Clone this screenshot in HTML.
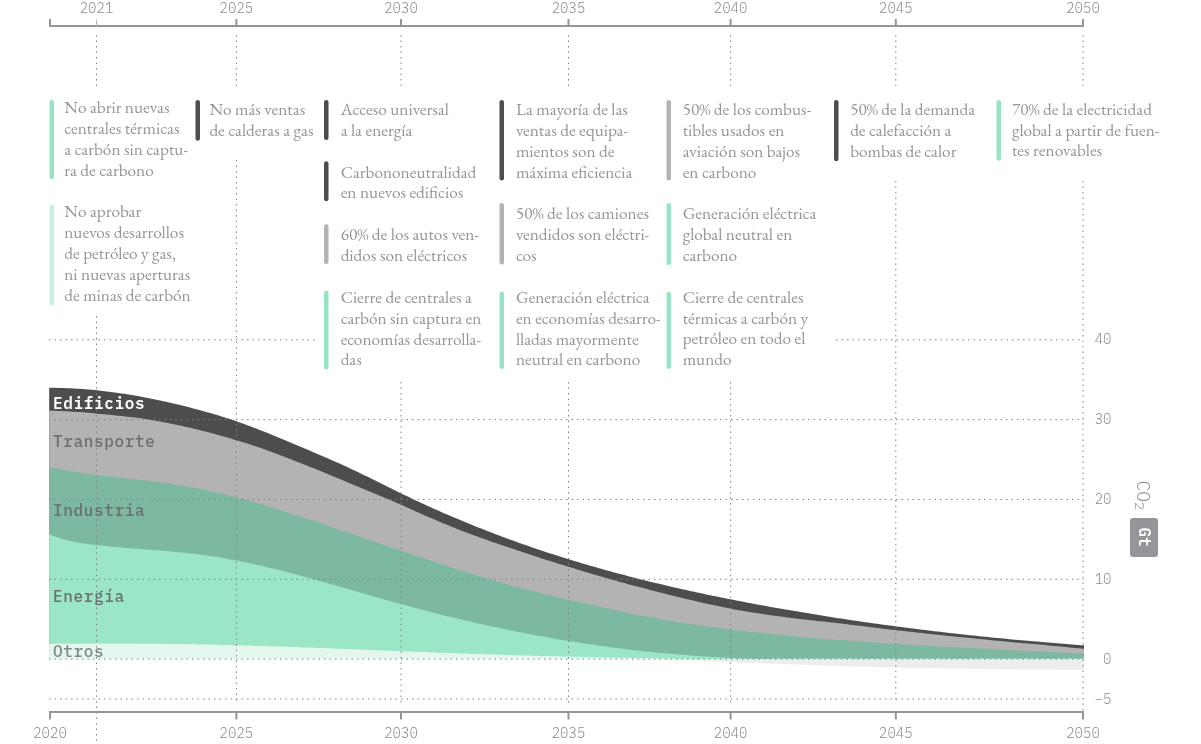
<!DOCTYPE html>
<html lang="es"><head><meta charset="utf-8"><title>Hoja de ruta hacia cero emisiones netas</title>
<style>
html,body{margin:0;padding:0;background:#fff;overflow:hidden}
svg{display:block;will-change:transform;-webkit-font-smoothing:antialiased}
.grid line{stroke:#808285;stroke-width:1;stroke-dasharray:1.5 4;fill:none}
.tick text{font-family:"IBM Plex Mono","Liberation Mono",monospace;font-weight:300;font-size:14px;fill:#8a8c8f}
.ann{font-family:"EB Garamond","Liberation Serif",serif;font-size:100px}
.ann text{font-family:"EB Garamond","Liberation Serif",serif;font-size:calc(24.8432px - 0.18983ex);fill:#939598}
.co2{font-family:"IBM Plex Mono","Liberation Mono",monospace;font-weight:300;font-size:18px;fill:#939598}
.gt{font-family:"IBM Plex Mono","Liberation Mono",monospace;font-weight:600;font-size:16px;fill:#fff}
.lab text{font-family:"IBM Plex Mono","Liberation Mono",monospace;font-weight:500;font-size:16px;letter-spacing:0.65px;fill:#6d6e71}
</style></head><body>
<svg width="1201" height="744" viewBox="0 0 1201 744">
<rect width="1201" height="744" fill="#fff"/>
<g class="areas">
<path d="M49.2,659.10 L52.2,659.10 L55.2,659.10 L58.2,659.10 L61.2,659.10 L64.2,659.10 L67.2,659.10 L70.2,659.10 L73.2,659.10 L76.2,659.10 L79.2,659.10 L82.2,659.10 L85.2,659.10 L88.2,659.10 L91.2,659.10 L94.2,659.10 L97.2,659.10 L100.2,659.10 L103.2,659.10 L106.2,659.10 L109.2,659.10 L112.2,659.10 L115.2,659.10 L118.2,659.10 L121.2,659.10 L124.2,659.10 L127.2,659.10 L130.2,659.10 L133.2,659.10 L136.2,659.10 L139.2,659.10 L142.2,659.10 L145.2,659.10 L148.2,659.10 L151.2,659.10 L154.2,659.10 L157.2,659.10 L160.2,659.10 L163.2,659.10 L166.2,659.10 L169.2,659.10 L172.2,659.10 L175.2,659.10 L178.2,659.10 L181.2,659.10 L184.2,659.10 L187.2,659.10 L190.2,659.10 L193.2,659.10 L196.2,659.10 L199.2,659.10 L202.2,659.10 L205.2,659.10 L208.2,659.10 L211.2,659.10 L214.2,659.10 L217.2,659.10 L220.2,659.10 L223.2,659.10 L226.2,659.10 L229.2,659.10 L232.2,659.10 L235.2,659.10 L238.2,659.10 L241.2,659.10 L244.2,659.10 L247.2,659.10 L250.2,659.10 L253.2,659.10 L256.2,659.10 L259.2,659.10 L262.2,659.10 L265.2,659.10 L268.2,659.10 L271.2,659.10 L274.2,659.10 L277.2,659.10 L280.2,659.10 L283.2,659.10 L286.2,659.10 L289.2,659.10 L292.2,659.10 L295.2,659.10 L298.2,659.10 L301.2,659.10 L304.2,659.10 L307.2,659.10 L310.2,659.10 L313.2,659.10 L316.2,659.10 L319.2,659.10 L322.2,659.10 L325.2,659.10 L328.2,659.10 L331.2,659.10 L334.2,659.10 L337.2,659.10 L340.2,659.10 L343.2,659.10 L346.2,659.10 L349.2,659.10 L352.2,659.10 L355.2,659.10 L358.2,659.10 L361.2,659.10 L364.2,659.10 L367.2,659.10 L370.2,659.10 L373.2,659.10 L376.2,659.10 L379.2,659.10 L382.2,659.10 L385.2,659.10 L388.2,659.10 L391.2,659.10 L394.2,659.10 L397.2,659.10 L400.2,659.10 L403.2,659.10 L406.2,659.10 L409.2,659.10 L412.2,659.10 L415.2,659.10 L418.2,659.10 L421.2,659.10 L424.2,659.10 L427.2,659.10 L430.2,659.10 L433.2,659.10 L436.2,659.10 L439.2,659.10 L442.2,659.10 L445.2,659.10 L448.2,659.10 L451.2,659.10 L454.2,659.10 L457.2,659.10 L460.2,659.10 L463.2,659.10 L466.2,659.10 L469.2,659.10 L472.2,659.10 L475.2,659.10 L478.2,659.10 L481.2,659.10 L484.2,659.10 L487.2,659.10 L490.2,659.10 L493.2,659.10 L496.2,659.10 L499.2,659.10 L502.2,659.10 L505.2,659.10 L508.2,659.10 L511.2,659.10 L514.2,659.10 L517.2,659.10 L520.2,659.10 L523.2,659.10 L526.2,659.10 L529.2,659.10 L532.2,659.10 L535.2,659.10 L538.2,659.10 L541.2,659.10 L544.2,659.10 L547.2,659.10 L550.2,659.10 L553.2,659.10 L556.2,659.10 L559.2,659.10 L562.2,659.10 L565.2,659.10 L568.2,659.10 L571.2,659.10 L574.2,659.10 L577.2,659.10 L580.2,659.10 L583.2,659.10 L586.2,659.10 L589.2,659.10 L592.2,659.10 L595.2,659.10 L598.2,659.10 L601.2,659.10 L604.2,659.10 L607.2,659.10 L610.2,659.10 L613.2,659.10 L616.2,659.10 L619.2,659.10 L622.2,659.10 L625.2,659.10 L628.2,659.10 L631.2,659.10 L634.2,659.11 L637.2,659.12 L640.2,659.14 L643.2,659.17 L646.2,659.21 L649.2,659.25 L652.2,659.29 L655.2,659.34 L658.2,659.39 L661.2,659.44 L664.2,659.49 L667.2,659.55 L670.2,659.60 L673.2,659.67 L676.2,659.74 L679.2,659.83 L682.2,659.92 L685.2,660.02 L688.2,660.13 L691.2,660.24 L694.2,660.36 L697.2,660.48 L700.2,660.61 L703.2,660.74 L706.2,660.90 L709.2,661.07 L712.2,661.25 L715.2,661.43 L718.2,661.61 L721.2,661.79 L724.2,661.96 L727.2,662.12 L730.2,662.27 L733.2,662.39 L736.2,662.51 L739.2,662.63 L742.2,662.74 L745.2,662.84 L748.2,662.95 L751.2,663.05 L754.2,663.14 L757.2,663.24 L760.2,663.33 L763.2,663.42 L766.2,663.51 L769.2,663.60 L772.2,663.69 L775.2,663.78 L778.2,663.87 L781.2,663.96 L784.2,664.05 L787.2,664.14 L790.2,664.24 L793.2,664.34 L796.2,664.44 L799.2,664.55 L802.2,664.65 L805.2,664.76 L808.2,664.87 L811.2,664.98 L814.2,665.10 L817.2,665.21 L820.2,665.32 L823.2,665.43 L826.2,665.54 L829.2,665.64 L832.2,665.75 L835.2,665.85 L838.2,665.94 L841.2,666.04 L844.2,666.13 L847.2,666.22 L850.2,666.31 L853.2,666.39 L856.2,666.48 L859.2,666.57 L862.2,666.65 L865.2,666.73 L868.2,666.81 L871.2,666.89 L874.2,666.97 L877.2,667.05 L880.2,667.12 L883.2,667.20 L886.2,667.27 L889.2,667.35 L892.2,667.42 L895.2,667.49 L898.2,667.56 L901.2,667.62 L904.2,667.69 L907.2,667.76 L910.2,667.82 L913.2,667.89 L916.2,667.95 L919.2,668.01 L922.2,668.07 L925.2,668.12 L928.2,668.17 L931.2,668.22 L934.2,668.26 L937.2,668.30 L940.2,668.34 L943.2,668.38 L946.2,668.42 L949.2,668.45 L952.2,668.48 L955.2,668.52 L958.2,668.55 L961.2,668.58 L964.2,668.62 L967.2,668.65 L970.2,668.68 L973.2,668.72 L976.2,668.75 L979.2,668.79 L982.2,668.83 L985.2,668.87 L988.2,668.92 L991.2,668.97 L994.2,669.01 L997.2,669.06 L1000.2,669.11 L1003.2,669.16 L1006.2,669.21 L1009.2,669.26 L1012.2,669.31 L1015.2,669.35 L1018.2,669.39 L1021.2,669.42 L1024.2,669.45 L1027.2,669.48 L1030.2,669.50 L1033.2,669.52 L1036.2,669.54 L1039.2,669.55 L1042.2,669.57 L1045.2,669.59 L1048.2,669.60 L1051.2,669.61 L1054.2,669.63 L1057.2,669.64 L1060.2,669.65 L1063.2,669.66 L1066.2,669.67 L1069.2,669.68 L1072.2,669.69 L1075.2,669.69 L1078.2,669.70 L1081.2,669.70 L1084.0,669.70 L1084.0,659.10 L49.2,659.10Z" fill="#ededed"/>
<path d="M49.2,387.79 L52.2,387.80 L55.2,387.84 L58.2,387.89 L61.2,387.97 L64.2,388.06 L67.2,388.18 L70.2,388.31 L73.2,388.47 L76.2,388.64 L79.2,388.83 L82.2,389.04 L85.2,389.27 L88.2,389.52 L91.2,389.78 L94.2,390.06 L97.2,390.37 L100.2,390.69 L103.2,391.02 L106.2,391.38 L109.2,391.75 L112.2,392.14 L115.2,392.54 L118.2,392.96 L121.2,393.40 L124.2,393.86 L127.2,394.33 L130.2,394.81 L133.2,395.32 L136.2,395.83 L139.2,396.37 L142.2,396.92 L145.2,397.48 L148.2,398.06 L151.2,398.65 L154.2,399.26 L157.2,399.88 L160.2,400.51 L163.2,401.16 L166.2,401.83 L169.2,402.51 L172.2,403.20 L175.2,403.90 L178.2,404.62 L181.2,405.35 L184.2,406.09 L187.2,406.84 L190.2,407.61 L193.2,408.39 L196.2,409.18 L199.2,409.98 L202.2,410.80 L205.2,411.63 L208.2,412.47 L211.2,413.33 L214.2,414.21 L217.2,415.10 L220.2,416.01 L223.2,416.94 L226.2,417.89 L229.2,418.86 L232.2,419.85 L235.2,420.86 L238.2,421.90 L241.2,422.96 L244.2,424.04 L247.2,425.14 L250.2,426.26 L253.2,427.39 L256.2,428.55 L259.2,429.71 L262.2,430.90 L265.2,432.09 L268.2,433.30 L271.2,434.52 L274.2,435.75 L277.2,436.98 L280.2,438.23 L283.2,439.48 L286.2,440.74 L289.2,442.00 L292.2,443.26 L295.2,444.53 L298.2,445.80 L301.2,447.06 L304.2,448.33 L307.2,449.60 L310.2,450.87 L313.2,452.14 L316.2,453.41 L319.2,454.69 L322.2,455.98 L325.2,457.27 L328.2,458.57 L331.2,459.88 L334.2,461.20 L337.2,462.53 L340.2,463.87 L343.2,465.22 L346.2,466.59 L349.2,467.98 L352.2,469.38 L355.2,470.80 L358.2,472.24 L361.2,473.68 L364.2,475.14 L367.2,476.61 L370.2,478.09 L373.2,479.58 L376.2,481.06 L379.2,482.56 L382.2,484.05 L385.2,485.54 L388.2,487.04 L391.2,488.52 L394.2,490.01 L397.2,491.48 L400.2,492.95 L403.2,494.41 L406.2,495.85 L409.2,497.29 L412.2,498.71 L415.2,500.13 L418.2,501.53 L421.2,502.92 L424.2,504.31 L427.2,505.68 L430.2,507.04 L433.2,508.39 L436.2,509.73 L439.2,511.06 L442.2,512.38 L445.2,513.69 L448.2,514.99 L451.2,516.28 L454.2,517.55 L457.2,518.82 L460.2,520.08 L463.2,521.33 L466.2,522.57 L469.2,523.80 L472.2,525.02 L475.2,526.22 L478.2,527.42 L481.2,528.61 L484.2,529.79 L487.2,530.96 L490.2,532.12 L493.2,533.27 L496.2,534.41 L499.2,535.54 L502.2,536.66 L505.2,537.78 L508.2,538.88 L511.2,539.97 L514.2,541.06 L517.2,542.13 L520.2,543.20 L523.2,544.26 L526.2,545.31 L529.2,546.35 L532.2,547.38 L535.2,548.40 L538.2,549.41 L541.2,550.42 L544.2,551.42 L547.2,552.40 L550.2,553.38 L553.2,554.36 L556.2,555.32 L559.2,556.27 L562.2,557.22 L565.2,558.16 L568.2,559.09 L571.2,560.01 L574.2,560.93 L577.2,561.83 L580.2,562.73 L583.2,563.63 L586.2,564.51 L589.2,565.39 L592.2,566.26 L595.2,567.12 L598.2,567.97 L601.2,568.82 L604.2,569.66 L607.2,570.49 L610.2,571.32 L613.2,572.14 L616.2,572.95 L619.2,573.75 L622.2,574.55 L625.2,575.34 L628.2,576.13 L631.2,576.90 L634.2,577.67 L637.2,578.44 L640.2,579.20 L643.2,579.95 L646.2,580.70 L649.2,581.43 L652.2,582.17 L655.2,582.89 L658.2,583.62 L661.2,584.33 L664.2,585.04 L667.2,585.74 L670.2,586.44 L673.2,587.13 L676.2,587.82 L679.2,588.50 L682.2,589.17 L685.2,589.84 L688.2,590.51 L691.2,591.17 L694.2,591.82 L697.2,592.47 L700.2,593.11 L703.2,593.75 L706.2,594.38 L709.2,595.01 L712.2,595.63 L715.2,596.25 L718.2,596.86 L721.2,597.47 L724.2,598.08 L727.2,598.68 L730.2,599.27 L733.2,599.86 L736.2,600.45 L739.2,601.03 L742.2,601.61 L745.2,602.18 L748.2,602.75 L751.2,603.32 L754.2,603.88 L757.2,604.44 L760.2,604.99 L763.2,605.54 L766.2,606.09 L769.2,606.63 L772.2,607.17 L775.2,607.70 L778.2,608.24 L781.2,608.76 L784.2,609.29 L787.2,609.81 L790.2,610.33 L793.2,610.84 L796.2,611.35 L799.2,611.86 L802.2,612.36 L805.2,612.86 L808.2,613.36 L811.2,613.85 L814.2,614.34 L817.2,614.83 L820.2,615.31 L823.2,615.79 L826.2,616.26 L829.2,616.73 L832.2,617.20 L835.2,617.67 L838.2,618.13 L841.2,618.59 L844.2,619.04 L847.2,619.49 L850.2,619.94 L853.2,620.39 L856.2,620.83 L859.2,621.27 L862.2,621.70 L865.2,622.13 L868.2,622.56 L871.2,622.98 L874.2,623.41 L877.2,623.82 L880.2,624.24 L883.2,624.65 L886.2,625.06 L889.2,625.46 L892.2,625.87 L895.2,626.27 L898.2,626.66 L901.2,627.05 L904.2,627.44 L907.2,627.83 L910.2,628.21 L913.2,628.59 L916.2,628.97 L919.2,629.34 L922.2,629.71 L925.2,630.08 L928.2,630.44 L931.2,630.80 L934.2,631.16 L937.2,631.52 L940.2,631.87 L943.2,632.22 L946.2,632.56 L949.2,632.90 L952.2,633.24 L955.2,633.58 L958.2,633.91 L961.2,634.25 L964.2,634.57 L967.2,634.90 L970.2,635.22 L973.2,635.54 L976.2,635.85 L979.2,636.17 L982.2,636.48 L985.2,636.78 L988.2,637.09 L991.2,637.39 L994.2,637.69 L997.2,637.98 L1000.2,638.28 L1003.2,638.57 L1006.2,638.85 L1009.2,639.14 L1012.2,639.42 L1015.2,639.70 L1018.2,639.97 L1021.2,640.24 L1024.2,640.51 L1027.2,640.78 L1030.2,641.05 L1033.2,641.31 L1036.2,641.57 L1039.2,641.82 L1042.2,642.08 L1045.2,642.33 L1048.2,642.58 L1051.2,642.82 L1054.2,643.06 L1057.2,643.30 L1060.2,643.54 L1063.2,643.78 L1066.2,644.01 L1069.2,644.24 L1072.2,644.47 L1075.2,644.69 L1078.2,644.91 L1081.2,645.13 L1084.0,645.33 L1084.0,659.10 L49.2,659.10Z" fill="#4d4d4d"/>
<path d="M49.2,410.59 L52.2,410.69 L55.2,410.81 L58.2,410.93 L61.2,411.06 L64.2,411.20 L67.2,411.36 L70.2,411.53 L73.2,411.71 L76.2,411.90 L79.2,412.10 L82.2,412.33 L85.2,412.56 L88.2,412.81 L91.2,413.08 L94.2,413.36 L97.2,413.67 L100.2,413.97 L103.2,414.26 L106.2,414.54 L109.2,414.83 L112.2,415.12 L115.2,415.40 L118.2,415.70 L121.2,416.00 L124.2,416.31 L127.2,416.64 L130.2,416.98 L133.2,417.34 L136.2,417.72 L139.2,418.12 L142.2,418.55 L145.2,419.00 L148.2,419.49 L151.2,419.99 L154.2,420.51 L157.2,421.04 L160.2,421.59 L163.2,422.15 L166.2,422.73 L169.2,423.33 L172.2,423.94 L175.2,424.56 L178.2,425.20 L181.2,425.85 L184.2,426.51 L187.2,427.18 L190.2,427.87 L193.2,428.57 L196.2,429.27 L199.2,430.00 L202.2,430.74 L205.2,431.50 L208.2,432.27 L211.2,433.06 L214.2,433.87 L217.2,434.69 L220.2,435.53 L223.2,436.38 L226.2,437.24 L229.2,438.12 L232.2,439.01 L235.2,439.91 L238.2,440.81 L241.2,441.69 L244.2,442.57 L247.2,443.46 L250.2,444.40 L253.2,445.39 L256.2,446.41 L259.2,447.45 L262.2,448.50 L265.2,449.58 L268.2,450.67 L271.2,451.78 L274.2,452.90 L277.2,454.03 L280.2,455.18 L283.2,456.33 L286.2,457.49 L289.2,458.66 L292.2,459.83 L295.2,461.00 L298.2,462.18 L301.2,463.36 L304.2,464.54 L307.2,465.73 L310.2,466.92 L313.2,468.12 L316.2,469.33 L319.2,470.54 L322.2,471.76 L325.2,472.99 L328.2,474.22 L331.2,475.46 L334.2,476.71 L337.2,477.96 L340.2,479.22 L343.2,480.49 L346.2,481.77 L349.2,483.05 L352.2,484.33 L355.2,485.61 L358.2,486.86 L361.2,488.11 L364.2,489.34 L367.2,490.56 L370.2,491.78 L373.2,493.00 L376.2,494.22 L379.2,495.44 L382.2,496.67 L385.2,497.91 L388.2,499.17 L391.2,500.44 L394.2,501.73 L397.2,503.04 L400.2,504.38 L403.2,505.74 L406.2,507.09 L409.2,508.44 L412.2,509.79 L415.2,511.14 L418.2,512.48 L421.2,513.81 L424.2,515.13 L427.2,516.45 L430.2,517.76 L433.2,519.06 L436.2,520.34 L439.2,521.61 L442.2,522.88 L445.2,524.12 L448.2,525.35 L451.2,526.57 L454.2,527.77 L457.2,528.96 L460.2,530.13 L463.2,531.28 L466.2,532.42 L469.2,533.55 L472.2,534.67 L475.2,535.77 L478.2,536.87 L481.2,537.95 L484.2,539.02 L487.2,540.09 L490.2,541.14 L493.2,542.19 L496.2,543.23 L499.2,544.26 L502.2,545.28 L505.2,546.30 L508.2,547.32 L511.2,548.33 L514.2,549.33 L517.2,550.34 L520.2,551.34 L523.2,552.34 L526.2,553.33 L529.2,554.33 L532.2,555.32 L535.2,556.30 L538.2,557.27 L541.2,558.23 L544.2,559.19 L547.2,560.14 L550.2,561.09 L553.2,562.03 L556.2,562.97 L559.2,563.90 L562.2,564.83 L565.2,565.76 L568.2,566.69 L571.2,567.61 L574.2,568.53 L577.2,569.45 L580.2,570.36 L583.2,571.26 L586.2,572.16 L589.2,573.06 L592.2,573.95 L595.2,574.83 L598.2,575.71 L601.2,576.58 L604.2,577.45 L607.2,578.31 L610.2,579.16 L613.2,580.00 L616.2,580.84 L619.2,581.68 L622.2,582.50 L625.2,583.32 L628.2,584.13 L631.2,584.93 L634.2,585.73 L637.2,586.52 L640.2,587.30 L643.2,588.08 L646.2,588.86 L649.2,589.63 L652.2,590.39 L655.2,591.15 L658.2,591.91 L661.2,592.66 L664.2,593.41 L667.2,594.15 L670.2,594.90 L673.2,595.65 L676.2,596.41 L679.2,597.16 L682.2,597.91 L685.2,598.66 L688.2,599.39 L691.2,600.12 L694.2,600.84 L697.2,601.53 L700.2,602.21 L703.2,602.88 L706.2,603.54 L709.2,604.20 L712.2,604.85 L715.2,605.49 L718.2,606.12 L721.2,606.75 L724.2,607.37 L727.2,607.97 L730.2,608.57 L733.2,609.16 L736.2,609.71 L739.2,610.25 L742.2,610.77 L745.2,611.27 L748.2,611.76 L751.2,612.23 L754.2,612.70 L757.2,613.15 L760.2,613.61 L763.2,614.05 L766.2,614.50 L769.2,614.95 L772.2,615.38 L775.2,615.80 L778.2,616.21 L781.2,616.62 L784.2,617.01 L787.2,617.40 L790.2,617.78 L793.2,618.15 L796.2,618.53 L799.2,618.89 L802.2,619.26 L805.2,619.61 L808.2,619.94 L811.2,620.27 L814.2,620.59 L817.2,620.91 L820.2,621.22 L823.2,621.54 L826.2,621.85 L829.2,622.17 L832.2,622.50 L835.2,622.84 L838.2,623.19 L841.2,623.55 L844.2,623.92 L847.2,624.28 L850.2,624.65 L853.2,625.02 L856.2,625.39 L859.2,625.76 L862.2,626.12 L865.2,626.49 L868.2,626.86 L871.2,627.22 L874.2,627.59 L877.2,627.95 L880.2,628.31 L883.2,628.67 L886.2,629.02 L889.2,629.38 L892.2,629.73 L895.2,630.08 L898.2,630.42 L901.2,630.76 L904.2,631.10 L907.2,631.44 L910.2,631.78 L913.2,632.11 L916.2,632.45 L919.2,632.78 L922.2,633.11 L925.2,633.44 L928.2,633.76 L931.2,634.09 L934.2,634.41 L937.2,634.73 L940.2,635.04 L943.2,635.35 L946.2,635.66 L949.2,635.97 L952.2,636.27 L955.2,636.57 L958.2,636.88 L961.2,637.18 L964.2,637.47 L967.2,637.77 L970.2,638.07 L973.2,638.37 L976.2,638.67 L979.2,638.97 L982.2,639.27 L985.2,639.57 L988.2,639.86 L991.2,640.15 L994.2,640.44 L997.2,640.73 L1000.2,641.02 L1003.2,641.30 L1006.2,641.58 L1009.2,641.86 L1012.2,642.13 L1015.2,642.41 L1018.2,642.68 L1021.2,642.95 L1024.2,643.22 L1027.2,643.48 L1030.2,643.75 L1033.2,644.01 L1036.2,644.28 L1039.2,644.55 L1042.2,644.83 L1045.2,645.11 L1048.2,645.39 L1051.2,645.68 L1054.2,645.96 L1057.2,646.25 L1060.2,646.54 L1063.2,646.83 L1066.2,647.12 L1069.2,647.41 L1072.2,647.70 L1075.2,647.99 L1078.2,648.28 L1081.2,648.57 L1084.0,648.84 L1084.0,659.10 L49.2,659.10Z" fill="#b3b3b3"/>
<path d="M49.2,466.71 L52.2,467.40 L55.2,468.07 L58.2,468.70 L61.2,469.31 L64.2,469.90 L67.2,470.46 L70.2,471.00 L73.2,471.52 L76.2,472.01 L79.2,472.49 L82.2,472.95 L85.2,473.39 L88.2,473.82 L91.2,474.23 L94.2,474.63 L97.2,475.02 L100.2,475.40 L103.2,475.76 L106.2,476.12 L109.2,476.47 L112.2,476.81 L115.2,477.14 L118.2,477.48 L121.2,477.80 L124.2,478.13 L127.2,478.46 L130.2,478.78 L133.2,479.11 L136.2,479.44 L139.2,479.77 L142.2,480.11 L145.2,480.45 L148.2,480.80 L151.2,481.16 L154.2,481.53 L157.2,481.90 L160.2,482.29 L163.2,482.69 L166.2,483.11 L169.2,483.54 L172.2,483.99 L175.2,484.45 L178.2,484.93 L181.2,485.43 L184.2,485.94 L187.2,486.47 L190.2,487.02 L193.2,487.59 L196.2,488.17 L199.2,488.77 L202.2,489.38 L205.2,490.01 L208.2,490.65 L211.2,491.31 L214.2,491.99 L217.2,492.68 L220.2,493.38 L223.2,494.10 L226.2,494.84 L229.2,495.59 L232.2,496.35 L235.2,497.13 L238.2,497.92 L241.2,498.72 L244.2,499.54 L247.2,500.36 L250.2,501.21 L253.2,502.06 L256.2,502.92 L259.2,503.80 L262.2,504.68 L265.2,505.57 L268.2,506.48 L271.2,507.39 L274.2,508.31 L277.2,509.24 L280.2,510.18 L283.2,511.12 L286.2,512.07 L289.2,513.03 L292.2,513.99 L295.2,514.96 L298.2,515.93 L301.2,516.91 L304.2,517.89 L307.2,518.88 L310.2,519.87 L313.2,520.86 L316.2,521.86 L319.2,522.86 L322.2,523.87 L325.2,524.87 L328.2,525.88 L331.2,526.90 L334.2,527.91 L337.2,528.93 L340.2,529.95 L343.2,530.97 L346.2,532.00 L349.2,533.02 L352.2,534.05 L355.2,535.08 L358.2,536.11 L361.2,537.14 L364.2,538.17 L367.2,539.20 L370.2,540.23 L373.2,541.26 L376.2,542.29 L379.2,543.32 L382.2,544.35 L385.2,545.38 L388.2,546.41 L391.2,547.44 L394.2,548.47 L397.2,549.49 L400.2,550.51 L403.2,551.53 L406.2,552.55 L409.2,553.57 L412.2,554.59 L415.2,555.60 L418.2,556.61 L421.2,557.61 L424.2,558.61 L427.2,559.61 L430.2,560.61 L433.2,561.60 L436.2,562.59 L439.2,563.57 L442.2,564.55 L445.2,565.53 L448.2,566.50 L451.2,567.46 L454.2,568.42 L457.2,569.38 L460.2,570.32 L463.2,571.27 L466.2,572.20 L469.2,573.14 L472.2,574.06 L475.2,574.98 L478.2,575.89 L481.2,576.80 L484.2,577.69 L487.2,578.59 L490.2,579.47 L493.2,580.34 L496.2,581.21 L499.2,582.07 L502.2,582.92 L505.2,583.77 L508.2,584.60 L511.2,585.43 L514.2,586.24 L517.2,587.05 L520.2,587.85 L523.2,588.64 L526.2,589.42 L529.2,590.19 L532.2,590.95 L535.2,591.71 L538.2,592.46 L541.2,593.20 L544.2,593.93 L547.2,594.65 L550.2,595.37 L553.2,596.09 L556.2,596.80 L559.2,597.50 L562.2,598.20 L565.2,598.90 L568.2,599.59 L571.2,600.28 L574.2,600.96 L577.2,601.64 L580.2,602.32 L583.2,603.00 L586.2,603.68 L589.2,604.35 L592.2,605.02 L595.2,605.70 L598.2,606.37 L601.2,607.04 L604.2,607.72 L607.2,608.39 L610.2,609.06 L613.2,609.73 L616.2,610.39 L619.2,611.05 L622.2,611.70 L625.2,612.35 L628.2,612.99 L631.2,613.62 L634.2,614.24 L637.2,614.85 L640.2,615.45 L643.2,616.04 L646.2,616.62 L649.2,617.19 L652.2,617.75 L655.2,618.30 L658.2,618.84 L661.2,619.37 L664.2,619.90 L667.2,620.41 L670.2,620.92 L673.2,621.42 L676.2,621.91 L679.2,622.39 L682.2,622.87 L685.2,623.33 L688.2,623.79 L691.2,624.24 L694.2,624.69 L697.2,625.12 L700.2,625.55 L703.2,625.97 L706.2,626.39 L709.2,626.80 L712.2,627.20 L715.2,627.59 L718.2,627.98 L721.2,628.36 L724.2,628.74 L727.2,629.11 L730.2,629.48 L733.2,629.84 L736.2,630.19 L739.2,630.54 L742.2,630.89 L745.2,631.23 L748.2,631.56 L751.2,631.89 L754.2,632.22 L757.2,632.54 L760.2,632.86 L763.2,633.17 L766.2,633.48 L769.2,633.79 L772.2,634.09 L775.2,634.39 L778.2,634.68 L781.2,634.97 L784.2,635.26 L787.2,635.54 L790.2,635.83 L793.2,636.10 L796.2,636.38 L799.2,636.65 L802.2,636.92 L805.2,637.18 L808.2,637.44 L811.2,637.70 L814.2,637.96 L817.2,638.21 L820.2,638.46 L823.2,638.70 L826.2,638.95 L829.2,639.19 L832.2,639.43 L835.2,639.66 L838.2,639.89 L841.2,640.12 L844.2,640.35 L847.2,640.58 L850.2,640.80 L853.2,641.02 L856.2,641.23 L859.2,641.45 L862.2,641.66 L865.2,641.87 L868.2,642.08 L871.2,642.29 L874.2,642.49 L877.2,642.69 L880.2,642.89 L883.2,643.09 L886.2,643.28 L889.2,643.47 L892.2,643.67 L895.2,643.85 L898.2,644.04 L901.2,644.23 L904.2,644.41 L907.2,644.59 L910.2,644.77 L913.2,644.95 L916.2,645.13 L919.2,645.31 L922.2,645.48 L925.2,645.65 L928.2,645.82 L931.2,646.00 L934.2,646.16 L937.2,646.33 L940.2,646.50 L943.2,646.66 L946.2,646.83 L949.2,646.99 L952.2,647.15 L955.2,647.31 L958.2,647.47 L961.2,647.63 L964.2,647.79 L967.2,647.95 L970.2,648.10 L973.2,648.26 L976.2,648.41 L979.2,648.57 L982.2,648.72 L985.2,648.87 L988.2,649.02 L991.2,649.18 L994.2,649.33 L997.2,649.48 L1000.2,649.63 L1003.2,649.78 L1006.2,649.93 L1009.2,650.08 L1012.2,650.23 L1015.2,650.38 L1018.2,650.53 L1021.2,650.68 L1024.2,650.83 L1027.2,650.98 L1030.2,651.13 L1033.2,651.28 L1036.2,651.42 L1039.2,651.57 L1042.2,651.72 L1045.2,651.87 L1048.2,652.03 L1051.2,652.18 L1054.2,652.33 L1057.2,652.48 L1060.2,652.63 L1063.2,652.79 L1066.2,652.94 L1069.2,653.09 L1072.2,653.25 L1075.2,653.40 L1078.2,653.56 L1081.2,653.72 L1084.0,653.86 L1084.0,659.10 L49.2,659.10Z" fill="#7cb9a0"/>
<path d="M49.2,534.25 L52.2,535.48 L55.2,536.61 L58.2,537.65 L61.2,538.60 L64.2,539.46 L67.2,540.25 L70.2,540.97 L73.2,541.62 L76.2,542.21 L79.2,542.75 L82.2,543.24 L85.2,543.68 L88.2,544.10 L91.2,544.48 L94.2,544.84 L97.2,545.18 L100.2,545.51 L103.2,545.82 L106.2,546.12 L109.2,546.42 L112.2,546.70 L115.2,546.97 L118.2,547.24 L121.2,547.50 L124.2,547.75 L127.2,547.99 L130.2,548.24 L133.2,548.48 L136.2,548.71 L139.2,548.94 L142.2,549.18 L145.2,549.41 L148.2,549.64 L151.2,549.87 L154.2,550.11 L157.2,550.35 L160.2,550.59 L163.2,550.84 L166.2,551.09 L169.2,551.35 L172.2,551.62 L175.2,551.89 L178.2,552.18 L181.2,552.47 L184.2,552.78 L187.2,553.09 L190.2,553.42 L193.2,553.76 L196.2,554.12 L199.2,554.49 L202.2,554.88 L205.2,555.29 L208.2,555.71 L211.2,556.15 L214.2,556.60 L217.2,557.08 L220.2,557.57 L223.2,558.08 L226.2,558.60 L229.2,559.14 L232.2,559.70 L235.2,560.27 L238.2,560.85 L241.2,561.45 L244.2,562.06 L247.2,562.69 L250.2,563.33 L253.2,563.98 L256.2,564.64 L259.2,565.32 L262.2,566.01 L265.2,566.70 L268.2,567.41 L271.2,568.13 L274.2,568.87 L277.2,569.61 L280.2,570.36 L283.2,571.11 L286.2,571.88 L289.2,572.66 L292.2,573.44 L295.2,574.23 L298.2,575.03 L301.2,575.84 L304.2,576.65 L307.2,577.47 L310.2,578.30 L313.2,579.12 L316.2,579.96 L319.2,580.80 L322.2,581.64 L325.2,582.49 L328.2,583.34 L331.2,584.20 L334.2,585.05 L337.2,585.91 L340.2,586.78 L343.2,587.64 L346.2,588.51 L349.2,589.37 L352.2,590.24 L355.2,591.11 L358.2,591.97 L361.2,592.84 L364.2,593.71 L367.2,594.57 L370.2,595.44 L373.2,596.30 L376.2,597.16 L379.2,598.01 L382.2,598.87 L385.2,599.72 L388.2,600.56 L391.2,601.41 L394.2,602.24 L397.2,603.08 L400.2,603.90 L403.2,604.73 L406.2,605.54 L409.2,606.35 L412.2,607.16 L415.2,607.96 L418.2,608.75 L421.2,609.54 L424.2,610.32 L427.2,611.10 L430.2,611.87 L433.2,612.64 L436.2,613.40 L439.2,614.15 L442.2,614.90 L445.2,615.64 L448.2,616.38 L451.2,617.11 L454.2,617.83 L457.2,618.55 L460.2,619.26 L463.2,619.97 L466.2,620.67 L469.2,621.36 L472.2,622.05 L475.2,622.74 L478.2,623.41 L481.2,624.09 L484.2,624.75 L487.2,625.41 L490.2,626.06 L493.2,626.71 L496.2,627.35 L499.2,627.99 L502.2,628.62 L505.2,629.24 L508.2,629.86 L511.2,630.47 L514.2,631.07 L517.2,631.67 L520.2,632.26 L523.2,632.85 L526.2,633.43 L529.2,634.01 L532.2,634.57 L535.2,635.14 L538.2,635.69 L541.2,636.24 L544.2,636.78 L547.2,637.32 L550.2,637.85 L553.2,638.38 L556.2,638.89 L559.2,639.41 L562.2,639.91 L565.2,640.41 L568.2,640.91 L571.2,641.39 L574.2,641.87 L577.2,642.35 L580.2,642.82 L583.2,643.28 L586.2,643.73 L589.2,644.18 L592.2,644.62 L595.2,645.06 L598.2,645.49 L601.2,645.91 L604.2,646.33 L607.2,646.74 L610.2,647.14 L613.2,647.54 L616.2,647.93 L619.2,648.31 L622.2,648.69 L625.2,649.06 L628.2,649.43 L631.2,649.79 L634.2,650.14 L637.2,650.48 L640.2,650.82 L643.2,651.15 L646.2,651.48 L649.2,651.80 L652.2,652.11 L655.2,652.41 L658.2,652.71 L661.2,653.00 L664.2,653.29 L667.2,653.57 L670.2,653.84 L673.2,654.10 L676.2,654.36 L679.2,654.61 L682.2,654.86 L685.2,655.10 L688.2,655.33 L691.2,655.55 L694.2,655.77 L697.2,655.98 L700.2,656.18 L703.2,656.38 L706.2,656.57 L709.2,656.75 L712.2,656.93 L715.2,657.10 L718.2,657.26 L721.2,657.42 L724.2,657.57 L727.2,657.71 L730.2,657.85 L733.2,657.97 L736.2,658.10 L739.2,658.21 L742.2,658.32 L745.2,658.42 L748.2,658.51 L751.2,658.60 L754.2,658.67 L757.2,658.75 L760.2,658.81 L763.2,658.87 L766.2,658.92 L769.2,658.96 L772.2,658.60 L775.2,658.60 L778.2,658.60 L781.2,658.60 L784.2,658.60 L787.2,658.60 L790.2,658.60 L793.2,658.60 L796.2,658.60 L799.2,658.60 L802.2,658.60 L805.2,658.60 L808.2,658.60 L811.2,658.60 L814.2,658.60 L817.2,658.60 L820.2,658.60 L823.2,658.60 L826.2,658.60 L829.2,658.60 L832.2,658.60 L835.2,658.60 L838.2,658.60 L841.2,658.60 L844.2,658.60 L847.2,658.60 L850.2,658.60 L853.2,658.60 L856.2,658.60 L859.2,658.60 L862.2,658.60 L865.2,658.60 L868.2,658.60 L871.2,658.60 L874.2,658.60 L877.2,658.60 L880.2,658.60 L883.2,658.60 L886.2,658.60 L889.2,658.60 L892.2,658.60 L895.2,658.60 L898.2,658.60 L901.2,658.60 L904.2,658.60 L907.2,658.60 L910.2,658.60 L913.2,658.60 L916.2,658.60 L919.2,658.60 L922.2,658.60 L925.2,658.60 L928.2,658.60 L931.2,658.60 L934.2,658.60 L937.2,658.60 L940.2,658.60 L943.2,658.60 L946.2,658.60 L949.2,658.60 L952.2,658.60 L955.2,658.60 L958.2,658.60 L961.2,658.60 L964.2,658.60 L967.2,658.60 L970.2,658.60 L973.2,658.60 L976.2,658.60 L979.2,658.60 L982.2,658.60 L985.2,658.60 L988.2,658.60 L991.2,658.60 L994.2,658.60 L997.2,658.60 L1000.2,658.60 L1003.2,658.60 L1006.2,658.60 L1009.2,658.60 L1012.2,658.60 L1015.2,658.60 L1018.2,658.60 L1021.2,658.60 L1024.2,658.60 L1027.2,658.60 L1030.2,658.60 L1033.2,658.60 L1036.2,658.60 L1039.2,658.60 L1042.2,658.60 L1045.2,658.60 L1048.2,658.60 L1051.2,658.60 L1054.2,658.60 L1057.2,658.60 L1060.2,658.60 L1063.2,658.60 L1066.2,658.60 L1069.2,658.60 L1072.2,658.60 L1075.2,658.60 L1078.2,658.60 L1081.2,658.60 L1084.0,658.60 L1084.0,659.10 L49.2,659.10Z" fill="#9ae6c7"/>
<path d="M49.2,643.93 L52.2,643.89 L55.2,643.85 L58.2,643.82 L61.2,643.79 L64.2,643.76 L67.2,643.73 L70.2,643.71 L73.2,643.68 L76.2,643.66 L79.2,643.64 L82.2,643.62 L85.2,643.61 L88.2,643.59 L91.2,643.58 L94.2,643.57 L97.2,643.56 L100.2,643.56 L103.2,643.55 L106.2,643.55 L109.2,643.55 L112.2,643.55 L115.2,643.55 L118.2,643.56 L121.2,643.57 L124.2,643.57 L127.2,643.58 L130.2,643.60 L133.2,643.61 L136.2,643.63 L139.2,643.65 L142.2,643.67 L145.2,643.69 L148.2,643.71 L151.2,643.74 L154.2,643.77 L157.2,643.80 L160.2,643.83 L163.2,643.86 L166.2,643.90 L169.2,643.93 L172.2,643.97 L175.2,644.01 L178.2,644.06 L181.2,644.10 L184.2,644.15 L187.2,644.19 L190.2,644.24 L193.2,644.30 L196.2,644.35 L199.2,644.40 L202.2,644.46 L205.2,644.52 L208.2,644.58 L211.2,644.64 L214.2,644.71 L217.2,644.78 L220.2,644.84 L223.2,644.91 L226.2,644.98 L229.2,645.06 L232.2,645.13 L235.2,645.21 L238.2,645.29 L241.2,645.37 L244.2,645.45 L247.2,645.54 L250.2,645.62 L253.2,645.71 L256.2,645.80 L259.2,645.89 L262.2,645.98 L265.2,646.07 L268.2,646.17 L271.2,646.26 L274.2,646.36 L277.2,646.46 L280.2,646.56 L283.2,646.66 L286.2,646.76 L289.2,646.86 L292.2,646.97 L295.2,647.07 L298.2,647.18 L301.2,647.29 L304.2,647.40 L307.2,647.51 L310.2,647.62 L313.2,647.73 L316.2,647.84 L319.2,647.95 L322.2,648.07 L325.2,648.18 L328.2,648.30 L331.2,648.41 L334.2,648.53 L337.2,648.64 L340.2,648.76 L343.2,648.88 L346.2,649.00 L349.2,649.11 L352.2,649.23 L355.2,649.35 L358.2,649.47 L361.2,649.59 L364.2,649.71 L367.2,649.83 L370.2,649.95 L373.2,650.07 L376.2,650.19 L379.2,650.31 L382.2,650.43 L385.2,650.55 L388.2,650.67 L391.2,650.79 L394.2,650.91 L397.2,651.03 L400.2,651.14 L403.2,651.26 L406.2,651.38 L409.2,651.50 L412.2,651.62 L415.2,651.73 L418.2,651.85 L421.2,651.97 L424.2,652.08 L427.2,652.20 L430.2,652.31 L433.2,652.42 L436.2,652.54 L439.2,652.65 L442.2,652.76 L445.2,652.87 L448.2,652.98 L451.2,653.09 L454.2,653.19 L457.2,653.30 L460.2,653.41 L463.2,653.51 L466.2,653.61 L469.2,653.72 L472.2,653.82 L475.2,653.92 L478.2,654.02 L481.2,654.12 L484.2,654.22 L487.2,654.31 L490.2,654.41 L493.2,654.50 L496.2,654.60 L499.2,654.69 L502.2,654.78 L505.2,654.87 L508.2,654.96 L511.2,655.05 L514.2,655.14 L517.2,655.23 L520.2,655.32 L523.2,655.40 L526.2,655.49 L529.2,655.57 L532.2,655.65 L535.2,655.73 L538.2,655.82 L541.2,655.90 L544.2,655.98 L547.2,656.05 L550.2,656.13 L553.2,656.21 L556.2,656.28 L559.2,656.36 L562.2,656.43 L565.2,656.51 L568.2,656.58 L571.2,656.65 L574.2,656.72 L577.2,656.79 L580.2,656.86 L583.2,656.93 L586.2,657.00 L589.2,657.06 L592.2,657.13 L595.2,657.19 L598.2,657.26 L601.2,657.32 L604.2,657.38 L607.2,657.44 L610.2,657.50 L613.2,657.56 L616.2,657.62 L619.2,657.68 L622.2,657.74 L625.2,657.80 L628.2,657.85 L631.2,657.91 L634.2,657.96 L637.2,658.01 L640.2,658.07 L643.2,658.12 L646.2,658.17 L649.2,658.22 L652.2,658.27 L655.2,658.32 L658.2,658.37 L661.2,658.41 L664.2,658.46 L667.2,658.51 L670.2,658.55 L673.2,658.60 L676.2,658.64 L679.2,658.68 L682.2,658.73 L685.2,658.77 L688.2,658.81 L691.2,658.85 L694.2,658.89 L697.2,658.92 L700.2,658.96 L703.2,659.00 L706.2,659.04 L709.2,659.07 L712.2,659.10 L715.2,659.10 L718.2,659.10 L721.2,659.10 L724.2,659.10 L727.2,659.10 L730.2,659.10 L733.2,659.10 L736.2,659.10 L739.2,659.10 L742.2,659.10 L745.2,659.10 L748.2,659.10 L751.2,659.10 L754.2,659.10 L757.2,659.10 L760.2,659.10 L763.2,659.10 L766.2,659.10 L769.2,659.10 L772.2,659.10 L775.2,659.10 L778.2,659.10 L781.2,659.10 L784.2,659.10 L787.2,659.10 L790.2,659.10 L793.2,659.10 L796.2,659.10 L799.2,659.10 L802.2,659.10 L805.2,659.10 L808.2,659.10 L811.2,659.10 L814.2,659.10 L817.2,659.10 L820.2,659.10 L823.2,659.10 L826.2,659.10 L829.2,659.10 L832.2,659.10 L835.2,659.10 L838.2,659.10 L841.2,659.10 L844.2,659.10 L847.2,659.10 L850.2,659.10 L853.2,659.10 L856.2,659.10 L859.2,659.10 L862.2,659.10 L865.2,659.10 L868.2,659.10 L871.2,659.10 L874.2,659.10 L877.2,659.10 L880.2,659.10 L883.2,659.10 L886.2,659.10 L889.2,659.10 L892.2,659.10 L895.2,659.10 L898.2,659.10 L901.2,659.10 L904.2,659.10 L907.2,659.10 L910.2,659.10 L913.2,659.10 L916.2,659.10 L919.2,659.10 L922.2,659.10 L925.2,659.10 L928.2,659.10 L931.2,659.10 L934.2,659.10 L937.2,659.10 L940.2,659.10 L943.2,659.10 L946.2,659.10 L949.2,659.10 L952.2,659.10 L955.2,659.10 L958.2,659.10 L961.2,659.10 L964.2,659.10 L967.2,659.10 L970.2,659.10 L973.2,659.10 L976.2,659.10 L979.2,659.10 L982.2,659.10 L985.2,659.10 L988.2,659.10 L991.2,659.10 L994.2,659.10 L997.2,659.10 L1000.2,659.10 L1003.2,659.10 L1006.2,659.10 L1009.2,659.10 L1012.2,659.10 L1015.2,659.10 L1018.2,659.10 L1021.2,659.10 L1024.2,659.10 L1027.2,659.10 L1030.2,659.10 L1033.2,659.10 L1036.2,659.10 L1039.2,659.10 L1042.2,659.10 L1045.2,659.10 L1048.2,659.10 L1051.2,659.10 L1054.2,659.10 L1057.2,659.10 L1060.2,659.10 L1063.2,659.10 L1066.2,659.10 L1069.2,659.10 L1072.2,659.10 L1075.2,659.10 L1078.2,659.10 L1081.2,659.10 L1084.0,659.08 L1084.0,659.10 L49.2,659.10Z" fill="#e3f7ee"/>
</g>
<g class="grid">
<line x1="49" x2="1083.5" y1="419.64" y2="419.64"/>
<line x1="49" x2="1083.5" y1="499.46" y2="499.46"/>
<line x1="49" x2="1083.5" y1="579.28" y2="579.28"/>
<line x1="49" x2="1083.5" y1="659.10" y2="659.10"/>
<line x1="49" x2="1083.5" y1="699.01" y2="699.01"/>
<line x1="49" x2="316" y1="339.82" y2="339.82"/>
<line x1="836" x2="1083.5" y1="339.82" y2="339.82"/>
<line x1="96.5" x2="96.5" y1="35" y2="88"/>
<line x1="96.5" x2="96.5" y1="316" y2="744"/>
<line x1="236.4" x2="236.4" y1="35" y2="88"/>
<line x1="236.4" x2="236.4" y1="160" y2="703"/>
<line x1="401" x2="401" y1="35" y2="88"/>
<line x1="401" x2="401" y1="382" y2="703"/>
<line x1="568.5" x2="568.5" y1="35" y2="88"/>
<line x1="568.5" x2="568.5" y1="382" y2="703"/>
<line x1="730.6" x2="730.6" y1="35" y2="88"/>
<line x1="730.6" x2="730.6" y1="382" y2="703"/>
<line x1="895.8" x2="895.8" y1="35" y2="86"/>
<line x1="895.8" x2="895.8" y1="181" y2="703"/>
<line x1="1083" x2="1083" y1="35" y2="86"/>
<line x1="1083" x2="1083" y1="181" y2="711"/>
</g>
<g class="axes">
<path d="M50,19 V26 H1083 V19" fill="none" stroke="#939598" stroke-width="2"/>
<path d="M50,719.5 V712 H1083 V719.5" fill="none" stroke="#939598" stroke-width="2"/>
<line x1="236.4" x2="236.4" y1="19" y2="26" stroke="#939598" stroke-width="2"/>
<line x1="236.4" x2="236.4" y1="712" y2="719.5" stroke="#939598" stroke-width="2"/>
<line x1="401" x2="401" y1="19" y2="26" stroke="#939598" stroke-width="2"/>
<line x1="401" x2="401" y1="712" y2="719.5" stroke="#939598" stroke-width="2"/>
<line x1="568.5" x2="568.5" y1="19" y2="26" stroke="#939598" stroke-width="2"/>
<line x1="568.5" x2="568.5" y1="712" y2="719.5" stroke="#939598" stroke-width="2"/>
<line x1="730.6" x2="730.6" y1="19" y2="26" stroke="#939598" stroke-width="2"/>
<line x1="730.6" x2="730.6" y1="712" y2="719.5" stroke="#939598" stroke-width="2"/>
<line x1="895.8" x2="895.8" y1="19" y2="26" stroke="#939598" stroke-width="2"/>
<line x1="895.8" x2="895.8" y1="712" y2="719.5" stroke="#939598" stroke-width="2"/>
<line x1="96.5" x2="96.5" y1="19.5" y2="26" stroke="#b5b7b9" stroke-width="1"/>
</g>
<g class="tick">
<text x="96.5" y="12.5" text-anchor="middle">2021</text>
<text x="236.4" y="12.5" text-anchor="middle">2025</text>
<text x="401" y="12.5" text-anchor="middle">2030</text>
<text x="568.5" y="12.5" text-anchor="middle">2035</text>
<text x="730.6" y="12.5" text-anchor="middle">2040</text>
<text x="895.8" y="12.5" text-anchor="middle">2045</text>
<text x="1083" y="12.5" text-anchor="middle">2050</text>
<text x="50" y="738" text-anchor="middle">2020</text>
<text x="236.4" y="738" text-anchor="middle">2025</text>
<text x="401" y="738" text-anchor="middle">2030</text>
<text x="568.5" y="738" text-anchor="middle">2035</text>
<text x="730.6" y="738" text-anchor="middle">2040</text>
<text x="895.8" y="738" text-anchor="middle">2045</text>
<text x="1083" y="738" text-anchor="middle">2050</text>
<text x="1111.5" y="344.42" text-anchor="end">40</text>
<text x="1111.5" y="424.24" text-anchor="end">30</text>
<text x="1111.5" y="504.06" text-anchor="end">20</text>
<text x="1111.5" y="583.88" text-anchor="end">10</text>
<text x="1111.5" y="663.70" text-anchor="end">0</text>
<text x="1111.5" y="703.61" text-anchor="end">−5</text>
</g>
<g class="ann">
<rect x="49.5" y="100" width="4.5" height="79.25" rx="2.25" fill="#97e3c4"/>
<text x="64.25" y="113">No abrir nuevas</text>
<text x="64.25" y="134">centrales térmicas</text>
<text x="64.25" y="155">a carbón sin captu-</text>
<text x="64.25" y="176">ra de carbono</text>
<rect x="49.5" y="204.5" width="4.5" height="101.00" rx="2.25" fill="#c6f1df"/>
<text x="64.25" y="216.75">No aprobar</text>
<text x="64.25" y="237.75">nuevos desarrollos</text>
<text x="64.25" y="258.75">de petróleo y gas,</text>
<text x="64.25" y="279.5">ni nuevas aperturas</text>
<text x="64.25" y="300.5">de minas de carbón</text>
<rect x="195.5" y="100" width="4.5" height="40.75" rx="2.25" fill="#4d4d4d"/>
<text x="209.40" y="115">No más ventas</text>
<text x="209.40" y="136">de calderas a gas</text>
<rect x="324" y="100" width="4.5" height="40.00" rx="2.25" fill="#4d4d4d"/>
<text x="340.65" y="115">Acceso universal</text>
<text x="340.65" y="136">a la energía</text>
<rect x="324" y="161.25" width="4.5" height="40.00" rx="2.25" fill="#4d4d4d"/>
<text x="340.65" y="177.5">Carbononeutralidad</text>
<text x="340.65" y="198.25">en nuevos edificios</text>
<rect x="324" y="224.25" width="4.5" height="39.75" rx="2.25" fill="#b3b3b3"/>
<text x="340.65" y="240">60% de los autos ven-</text>
<text x="340.65" y="261">didos son eléctricos</text>
<rect x="324" y="290.5" width="4.5" height="79.00" rx="2.25" fill="#97e3c4"/>
<text x="340.65" y="302.5">Cierre de centrales a</text>
<text x="340.65" y="323.5">carbón sin captura en</text>
<text x="340.65" y="344.5">economías desarrolla-</text>
<text x="340.65" y="365">das</text>
<rect x="499.5" y="100" width="4.5" height="80.50" rx="2.25" fill="#4d4d4d"/>
<text x="515.90" y="115">La mayoría de las</text>
<text x="515.90" y="136">ventas de equipa-</text>
<text x="515.90" y="156.75">mientos son de</text>
<text x="515.90" y="177.5">máxima eficiencia</text>
<rect x="499.5" y="203" width="4.5" height="61.50" rx="2.25" fill="#b3b3b3"/>
<text x="515.90" y="219.25">50% de los camiones</text>
<text x="515.90" y="240">vendidos son eléctri-</text>
<text x="515.90" y="261">cos</text>
<rect x="499.5" y="291.75" width="4.5" height="77.25" rx="2.25" fill="#97e3c4"/>
<text x="515.90" y="302.5">Generación eléctrica</text>
<text x="515.90" y="323.5">en economías desarro-</text>
<text x="515.90" y="344.5">lladas mayormente</text>
<text x="515.90" y="365">neutral en carbono</text>
<rect x="666.5" y="100" width="4.5" height="80.50" rx="2.25" fill="#b3b3b3"/>
<text x="682.65" y="115">50% de los combus-</text>
<text x="682.65" y="136">tibles usados en</text>
<text x="682.65" y="156.75">aviación son bajos</text>
<text x="682.65" y="177.5">en carbono</text>
<rect x="666.5" y="203" width="4.5" height="62.00" rx="2.25" fill="#97e3c4"/>
<text x="682.65" y="219.25">Generación eléctrica</text>
<text x="682.65" y="240">global neutral en</text>
<text x="682.65" y="261">carbono</text>
<rect x="666.5" y="291.75" width="4.5" height="77.25" rx="2.25" fill="#97e3c4"/>
<text x="682.65" y="302.5">Cierre de centrales</text>
<text x="682.65" y="323.5">térmicas a carbón y</text>
<text x="682.65" y="344.25">petróleo en todo el</text>
<text x="682.65" y="365">mundo</text>
<rect x="834" y="100" width="4.5" height="61.25" rx="2.25" fill="#4d4d4d"/>
<text x="850.15" y="115">50% de la demanda</text>
<text x="850.15" y="136">de calefacción a</text>
<text x="850.15" y="156.75">bombas de calor</text>
<rect x="996.5" y="100" width="4.5" height="60.75" rx="2.25" fill="#97e3c4"/>
<text x="1011.90" y="114.5">70% de la electricidad</text>
<text x="1011.90" y="135.5">global a partir de fuen-</text>
<text x="1011.90" y="156.25">tes renovables</text>
</g>
<g class="lab">
<text x="53" y="408.7" style="fill:#fff;font-weight:600">Edificios</text>
<text x="53" y="446.5">Transporte</text>
<text x="53" y="515.9">Industria</text>
<text x="53" y="601.8">Energía</text>
<text x="53" y="656.7" style="fill:#85878a">Otros</text>
</g>
<g class="unit">
<text class="co2" transform="translate(1137,480.5) rotate(90)">CO<tspan dy="2.3" font-size="13.5">2</tspan></text>
<rect x="1130" y="518" width="28" height="39" rx="3" fill="#939598"/>
<text class="gt" transform="translate(1138.7,527.5) rotate(90)">Gt</text>
</g>
</svg>
</body></html>
